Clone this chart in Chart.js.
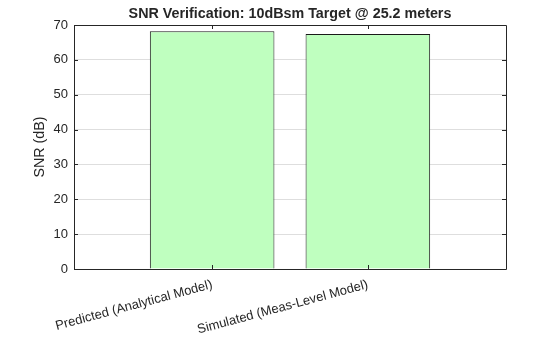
<!DOCTYPE html>
<html>
<head>
<meta charset="utf-8">
<script src="https://cdn.jsdelivr.net/npm/chart.js@4"></script>
<style>
  html, body { margin: 0; padding: 0; background: #ffffff; }
  #wrap { width: 560px; height: 337px; position: relative; }
</style>
</head>
<body>
<div id="wrap"><canvas id="c" width="560" height="337"></canvas></div>
<script>
const titleText = "SNR Verification: 10dBsm Target @ 25.2 meters";
const yAxisLabel = "SNR (dB)";
const categories = ["Predicted (Analytical Model)", "Simulated (Meas-Level Model)"];
const categoryPositions = [1, 2];
const snrValues = [68.2, 67.4];
const yTicks = [0, 10, 20, 30, 40, 50, 60, 70];

const FONT = "'Liberation Sans', Arial, Helvetica, sans-serif";
const TXT = "#262626";

const framePlugin = {
  id: 'frame',
  afterDatasetsDraw(chart) {
    const ctx = chart.ctx;
    const a = chart.chartArea;
    const xs = chart.scales.x, ys = chart.scales.y;
    ctx.save();
    ctx.strokeStyle = TXT;
    ctx.lineWidth = 1;
    ctx.beginPath();
    ctx.rect(Math.round(a.left) + 0.5, Math.round(a.top) + 0.5,
             Math.round(a.right - a.left), Math.round(a.bottom - a.top));
    const tl = 4;
    yTicks.forEach(v => {
      const y = Math.round(ys.getPixelForValue(v)) + 0.5;
      ctx.moveTo(a.left, y); ctx.lineTo(a.left + tl, y);
      ctx.moveTo(a.right, y); ctx.lineTo(a.right - tl, y);
    });
    categoryPositions.forEach(v => {
      const x = Math.round(xs.getPixelForValue(v)) + 0.5;
      ctx.moveTo(x, a.bottom); ctx.lineTo(x, a.bottom - tl);
      ctx.moveTo(x, a.top); ctx.lineTo(x, a.top + tl);
    });
    ctx.stroke();
    ctx.fillStyle = TXT;
    ctx.font = "bold 14.3px " + FONT;
    ctx.textAlign = 'center';
    ctx.textBaseline = 'middle';
    ctx.fillText(titleText, (a.left + a.right) / 2, 14);
    ctx.restore();
  }
};

new Chart(document.getElementById('c'), {
  type: 'bar',
  data: {
    datasets: [{
      data: categoryPositions.map((x, i) => ({ x: x, y: snrValues[i] })),
      backgroundColor: '#bfffbf',
      borderColor: '#1a1a1a',
      borderWidth: 1,
      barPercentage: 0.8,
      categoryPercentage: 1.0
    }]
  },
  plugins: [framePlugin],
  options: {
    responsive: false,
    animation: false,
    layout: { padding: { top: 25, right: 54, left: 0, bottom: 0 } },
    plugins: { legend: { display: false }, tooltip: { enabled: false }, title: { display: false } },
    scales: {
      x: {
        type: 'linear',
        offset: false,
        min: 0.113,
        max: 2.887,
        afterBuildTicks(scale) { scale.ticks = categoryPositions.map(v => ({ value: v })); },
        afterFit(scale) { scale.height = 68; },
        grid: { display: false, drawTicks: false, offset: false },
        border: { display: false },
        ticks: {
          autoSkip: false,
          minRotation: 15,
          maxRotation: 15,
          padding: 8,
          color: TXT,
          font: { family: FONT, size: 13 },
          callback(value) { return categories[categoryPositions.indexOf(value)]; }
        }
      },
      y: {
        min: 0,
        max: 70,
        afterBuildTicks(scale) { scale.ticks = yTicks.map(v => ({ value: v })); },
        afterFit(scale) { scale.width = 74; },
        grid: { color: '#dedede', lineWidth: 1, drawTicks: false },
        border: { display: false },
        ticks: {
          padding: 6,
          color: TXT,
          font: { family: FONT, size: 13 }
        },
        title: {
          display: true,
          text: yAxisLabel,
          color: TXT,
          font: { family: FONT, size: 14.3 },
          padding: { top: 31, bottom: 0 }
        }
      }
    }
  }
});
</script>
</body>
</html>
